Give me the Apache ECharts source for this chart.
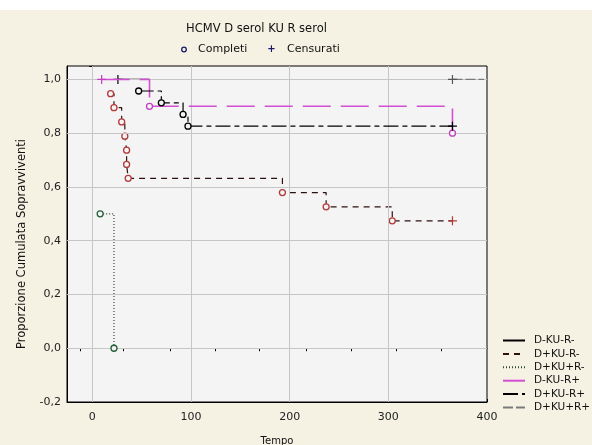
<!DOCTYPE html>
<html><head><meta charset="utf-8">
<script src="https://cdn.jsdelivr.net/npm/echarts@6/dist/echarts.min.js"></script>
<style>html,body{margin:0;padding:0;background:#f5f2e4}#c{width:592px;height:445px}</style>
</head><body><div id="c"></div>
<script>
// Gruppi sierologici (donatore / ricevente)
const gruppi = ['D-KU-R-', 'D+KU-R-', 'D+KU+R-', 'D-KU-R+', 'D+KU-R+', 'D+KU+R+'];

// Tempo, proporzione cumulata sopravviventi, esito ('o' completo, '+' censurato, '' nessun simbolo)
const tempo_1 = [26, 58];
const sopr_1  = [1, 1];
const esito_1 = ['+', ''];

const tempo_2 = [18.6, 22, 29.8, 33, 34.8, 34.8, 36.4, 192.7, 237, 304, 365];
const sopr_2  = [0.947, 0.895, 0.842, 0.789, 0.737, 0.684, 0.632, 0.579, 0.526, 0.474, 0.474];
const esito_2 = ['o', 'o', 'o', 'o', 'o', 'o', 'o', 'o', 'o', 'o', '+'];

const tempo_3 = [8, 22];
const sopr_3  = [0.5, 0];
const esito_3 = ['o', 'o'];

const tempo_4 = [9.5, 58, 365];
const sopr_4  = [1, 0.9, 0.8];
const esito_4 = ['+', 'o', 'o'];

const tempo_5 = [47, 70, 92, 97, 365];
const sopr_5  = [0.957, 0.913, 0.870, 0.826, 0.826];
const esito_5 = ['o', 'o', 'o', 'o', '+'];

const tempo_6 = [365, 397];
const sopr_6  = [1, 1];
const esito_6 = ['+', ''];

// Etichette degli assi
const xTicks = [0, 100, 200, 300, 400];
const xGriglia = [0, 100, 200, 300];
const yGriglia = [0, 0.2, 0.4, 0.6, 0.8, 1.0];
const xAltoTicks = [-12.4, 31.4, 78.6, 124.2, 169.7, 217, 262.6, 308, 353.6];

const stili = [
  { line: '#000000', mark: '#000000', type: 'solid', w: 1.2 },
  { line: '#2e1010', mark: '#b23a3a', type: [6, 5], w: 1.2 },
  { line: '#2e4a36', mark: '#24603a', type: [1, 2], w: 1.2 },
  { line: '#d24ed2', mark: '#c040c0', type: [28, 10], w: 1.6 },
  { line: '#000000', mark: '#000000', type: [15, 4, 5, 4], w: 1.2 },
  { line: '#7a7a7a', mark: '#555555', type: [10, 3], w: 1.2 }
];

const tempi = [tempo_1, tempo_2, tempo_3, tempo_4, tempo_5, tempo_6];
const soprs = [sopr_1, sopr_2, sopr_3, sopr_4, sopr_5, sopr_6];
const esiti = [esito_1, esito_2, esito_3, esito_4, esito_5, esito_6];

const plusPath = 'path://M5,0L5,10M0,5L10,5';
const fondo = '#f4f4f4';

const serie = gruppi.map((nome, i) => {
  const s = stili[i];
  return {
    name: nome,
    type: 'line',
    step: 'end',
    symbol: 'none',
    showSymbol: true,
    z: 3 + i,
    silent: true,
    lineStyle: { color: s.line, type: s.type, width: s.w },
    itemStyle: { color: s.line },
    data: tempi[i].map((t, k) => {
      const e = esiti[i][k];
      const item = { value: [t, soprs[i][k]] };
      if (e === 'o') {
        item.symbol = 'circle';
        item.symbolSize = 6;
        item.itemStyle = { color: fondo, borderColor: s.mark, borderWidth: 1.3 };
      } else if (e === '+') {
        item.symbol = plusPath;
        item.symbolSize = 9;
        item.itemStyle = { color: 'none', borderColor: s.mark, borderWidth: 1.2 };
      } else {
        item.symbol = 'none';
      }
      return item;
    })
  };
});

// Griglia di riferimento
serie.unshift({
  name: 'griglia',
  type: 'line',
  data: [[0, 0]],
  symbol: 'none',
  lineStyle: { opacity: 0 },
  silent: true,
  z: 1,
  markLine: {
    silent: true,
    symbol: ['none', 'none'],
    label: { show: false },
    lineStyle: { color: '#c6c6c6', type: 'solid', width: 1 },
    data: xGriglia.map(v => ({ xAxis: v })).concat(yGriglia.map(v => ({ yAxis: v })))
  }
});

const fmtY = v => v.toFixed(1).replace('.', ',');
const font = '"DejaVu Sans", Verdana, sans-serif';

const chart = echarts.init(document.getElementById('c'), null, { renderer: 'canvas' });
chart.setOption({
  animation: false,
  backgroundColor: '#f5f2e4',
  grid: {
    left: 67, right: 105, top: 66, bottom: 43,
    outerBoundsMode: 'none', containLabel: false,
    show: true, backgroundColor: fondo, borderColor: '#000', borderWidth: 1
  },
  legend: {
    data: gruppi,
    orient: 'vertical',
    left: 497, top: 330,
    itemWidth: 22, itemHeight: 10, itemGap: 2.4,
    selectedMode: false,
    itemStyle: { opacity: 0 },
    textStyle: { fontFamily: font, fontSize: 10.5, lineHeight: 11, color: '#111', padding: [0, 0, 0, 4] }
  },
  xAxis: [{
    type: 'value', min: -25.6, max: 400,
    name: 'Tempo', nameLocation: 'middle', nameGap: 34,
    nameTextStyle: { fontFamily: font, fontSize: 10, color: '#111', letterSpacing: 1.2 },
    axisLine: { show: true, onZero: false, lineStyle: { color: '#000' } },
    axisTick: { show: true, inside: true, length: 3, customValues: xTicks, lineStyle: { color: '#000' } },
    axisLabel: { customValues: xTicks, fontFamily: font, fontSize: 11, color: '#222', margin: 10 },
    splitLine: { show: false }
  }, {
    type: 'value', min: -25.6, max: 400, position: 'top',
    axisLine: { show: true, lineStyle: { color: '#000' } },
    axisTick: { show: true, inside: true, length: 3, customValues: xAltoTicks, lineStyle: { color: '#000' } },
    axisLabel: { show: false },
    splitLine: { show: false }
  }],
  yAxis: [{
    type: 'value', min: -0.2, max: 1.05, interval: 0.2,
    axisLine: { show: true, onZero: false, lineStyle: { color: '#000' } },
    axisTick: { show: true, inside: true, length: 3, lineStyle: { color: '#000' } },
    axisLabel: { formatter: fmtY, showMaxLabel: false, fontFamily: font, fontSize: 11, color: '#222', margin: 6 },
    splitLine: { show: false }
  }, {
    type: 'value', min: -0.2, max: 1.05, interval: 0.2, position: 'right',
    axisLine: { show: true, lineStyle: { color: '#000' } },
    axisTick: { show: true, inside: true, length: 3, lineStyle: { color: '#000' } },
    axisLabel: { show: false },
    splitLine: { show: false }
  }],
  graphic: [
    { type: 'rect', left: 0, top: 0, shape: { width: 592, height: 10 }, style: { fill: '#ffffff' }, z: -1 },
    { type: 'text', x: 256.5, y: 29, style: { text: 'HCMV D serol KU R serol', font: '11.5px ' + font, fill: '#111', align: 'center', verticalAlign: 'middle', letterSpacing: 0.3 } },
    { type: 'circle', shape: { cx: 184, cy: 49.5, r: 2.3 }, style: { fill: 'none', stroke: '#1a1a6a', lineWidth: 1.3 } },
    { type: 'text', x: 198, y: 49.5, style: { text: 'Completi', font: '11px ' + font, fill: '#111', verticalAlign: 'middle', letterSpacing: 0.7 } },
    { type: 'text', x: 271.5, y: 49.5, style: { text: '+', font: 'bold 10px ' + font, fill: '#1a1a6a', align: 'center', verticalAlign: 'middle' } },
    { type: 'text', x: 287, y: 49.5, style: { text: 'Censurati', font: '11px ' + font, fill: '#111', verticalAlign: 'middle', letterSpacing: 0.7 } },
    { type: 'text', x: 22, y: 244, rotation: Math.PI / 2, style: { text: 'Proporzione Cumulata Sopravviventi', font: '11.5px ' + font, fill: '#111', align: 'center', verticalAlign: 'middle', letterSpacing: 1.3 } }
  ],
  series: serie
});
</script>
</body></html>
